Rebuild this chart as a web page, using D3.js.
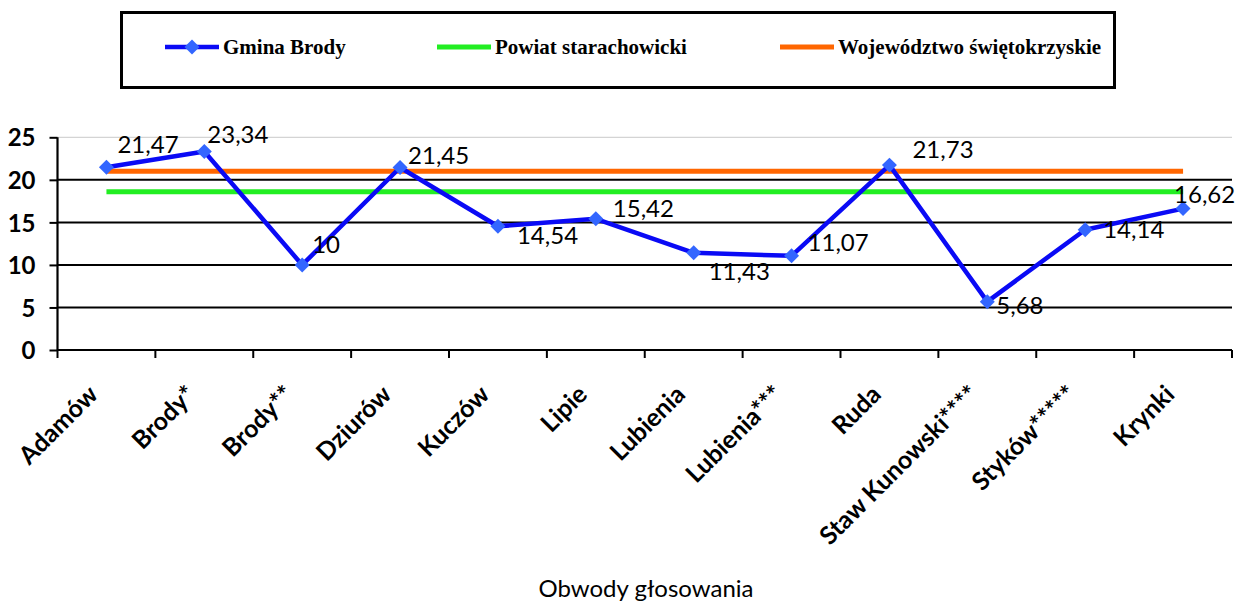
<!DOCTYPE html>
<meta charset="utf-8">
<style>
body { margin: 0; background: #fff; }
svg { display: block; background: #fff; }
.tick-y text { font: bold 24px Lato, sans-serif; }
.xlab { font: bold 25px Lato, sans-serif; }
.vlab { font: 24px Lato, sans-serif; }
.legend text { font: bold 21px "Liberation Serif", serif; }
</style>
<svg width="1235" height="605"></svg>
<script src="https://cdn.jsdelivr.net/npm/d3@7"></script>
<script>

// data
var districts = ["Adamów", "Brody*", "Brody**", "Dziurów", "Kuczów", "Lipie", "Lubienia",
                 "Lubienia***", "Ruda", "Staw Kunowski****", "Styków*****", "Krynki"];
var gminaBrody = [21.47, 23.34, 10, 21.45, 14.54, 15.42, 11.43, 11.07, 21.73, 5.68, 14.14, 16.62];
var powiat = [18.6, 18.6, 18.6, 18.6, 18.6, 18.6, 18.6, 18.6, 18.6, 18.6, 18.6, 18.6];
var wojewodztwo = [21.0, 21.0, 21.0, 21.0, 21.0, 21.0, 21.0, 21.0, 21.0, 21.0, 21.0, 21.0];
var yTicks = [0, 5, 10, 15, 20, 25];
var seriesNames = ["Gmina Brody", "Powiat starachowicki", "Województwo świętokrzyskie"];
var axisTitle = "Obwody głosowania";

// label offsets relative to each point (layout only)
var labelOffsets = [[11, -14], [3, -8], [10, -12], [8, -4], [19, 18], [17, -2],
                    [15, 27], [16, -5], [23, -7], [9, 12], [18, 8], [-9, -6]];

var svg = d3.select("svg");
var plotL = 57.5, plotR = 1232, plotT = 137.3, plotB = 350;

var x = d3.scaleBand().domain(districts).range([plotL, plotR]);
var cx = function(d) { return x(d) + x.bandwidth() / 2; };
var y = d3.scaleLinear().domain([0, 25]).range([plotB, plotT]);

// gridlines
svg.append("g")
  .selectAll("line")
  .data(yTicks.filter(function(t) { return t > 0; }))
  .enter().append("line")
    .attr("x1", plotL).attr("x2", plotR)
    .attr("y1", function(d) { return y(d); })
    .attr("y2", function(d) { return y(d); })
    .attr("stroke", function(d) { return d === 25 ? "#d4d4d4" : "#000"; })
    .attr("stroke-width", function(d) { return d === 25 ? 1.2 : 2; });

// y axis
var yAxis = svg.append("g")
    .attr("class", "tick-y")
    .attr("transform", "translate(" + plotL + ",0)")
    .call(d3.axisLeft(y).tickValues(yTicks).tickSize(8).tickPadding(14));
yAxis.select(".domain").attr("stroke", "#000").attr("stroke-width", 2.2)
    .attr("d", "M0," + y(0) + "V" + y(25));
yAxis.selectAll(".tick line").attr("stroke", "#000").attr("stroke-width", 2);
yAxis.selectAll(".tick text").attr("fill", "#000").attr("dy", "0.36em");

// x axis
var xAxis = svg.append("g")
    .attr("transform", "translate(0," + plotB + ")")
    .call(d3.axisBottom(x).tickSize(0).tickFormat(""));
xAxis.select(".domain").attr("stroke", "#000").attr("stroke-width", 2.2)
    .attr("d", "M" + plotL + ",0H" + plotR);
xAxis.selectAll(".tick").remove();
var bounds = districts.map(function(d) { return x(d); }).concat([plotR]);
xAxis.selectAll("line.tk")
  .data(bounds)
  .enter().append("line")
    .attr("class", "tk")
    .attr("x1", function(d) { return d; }).attr("x2", function(d) { return d; })
    .attr("y1", 0).attr("y2", 8)
    .attr("stroke", "#000").attr("stroke-width", 2);

// rotated category labels
svg.append("g")
  .selectAll("text")
  .data(districts)
  .enter().append("text")
    .attr("class", "xlab")
    .attr("text-anchor", "end")
    .attr("transform", function(d) {
      return "translate(" + (cx(d) - 7) + "," + (plotB + 46) + ") rotate(-45)";
    })
    .text(function(d) { return d; });

// axis title
svg.append("text")
    .attr("class", "vlab")
    .attr("x", 646).attr("y", 597)
    .attr("text-anchor", "middle")
    .text(axisTitle);

// flat series
var line = d3.line()
    .x(function(d, i) { return cx(districts[i]); })
    .y(function(d) { return y(d); });

svg.append("path").datum(powiat)
    .attr("d", line).attr("fill", "none")
    .attr("stroke", "#22ee22").attr("stroke-width", 5);
svg.append("path").datum(wojewodztwo)
    .attr("d", line).attr("fill", "none")
    .attr("stroke", "#ff6600").attr("stroke-width", 5);

// gmina series
svg.append("path").datum(gminaBrody)
    .attr("d", line).attr("fill", "none")
    .attr("stroke", "#0a0af5").attr("stroke-width", 4.5)
    .attr("stroke-linejoin", "round");

var diamond = d3.symbol().type(d3.symbolSquare).size(112);
svg.append("g")
  .selectAll("path")
  .data(gminaBrody)
  .enter().append("path")
    .attr("d", diamond)
    .attr("fill", "#3366ff")
    .attr("transform", function(d, i) {
      return "translate(" + cx(districts[i]) + "," + y(d) + ") rotate(45)";
    });

// data labels
svg.append("g")
  .selectAll("text")
  .data(gminaBrody)
  .enter().append("text")
    .attr("class", "vlab")
    .attr("x", function(d, i) { return cx(districts[i]) + labelOffsets[i][0]; })
    .attr("y", function(d, i) { return y(d) + labelOffsets[i][1]; })
    .text(function(d) { return String(d).replace(".", ","); });

// legend
var legend = svg.append("g").attr("class", "legend");
legend.append("rect")
    .attr("x", 121.5).attr("y", 12.5).attr("width", 993).attr("height", 75)
    .attr("fill", "#fff").attr("stroke", "#000").attr("stroke-width", 3);

var legendItems = [
  { name: seriesNames[0], color: "#0a0af5", x: 165, marker: true },
  { name: seriesNames[1], color: "#22ee22", x: 437, marker: false },
  { name: seriesNames[2], color: "#ff6600", x: 780, marker: false }
];
var li = legend.selectAll("g.item").data(legendItems).enter().append("g").attr("class", "item");
li.append("line")
    .attr("x1", function(d) { return d.x; }).attr("x2", function(d) { return d.x + 54; })
    .attr("y1", 47).attr("y2", 47)
    .attr("stroke", function(d) { return d.color; })
    .attr("stroke-width", function(d) { return d.marker ? 4.5 : 5; });
li.filter(function(d) { return d.marker; }).append("path")
    .attr("d", diamond)
    .attr("fill", "#3366ff")
    .attr("transform", function(d) { return "translate(" + (d.x + 27) + ",47) rotate(45)"; });
li.append("text")
    .attr("x", function(d) { return d.x + 58; })
    .attr("y", 54)
    .text(function(d) { return d.name; });

</script>
